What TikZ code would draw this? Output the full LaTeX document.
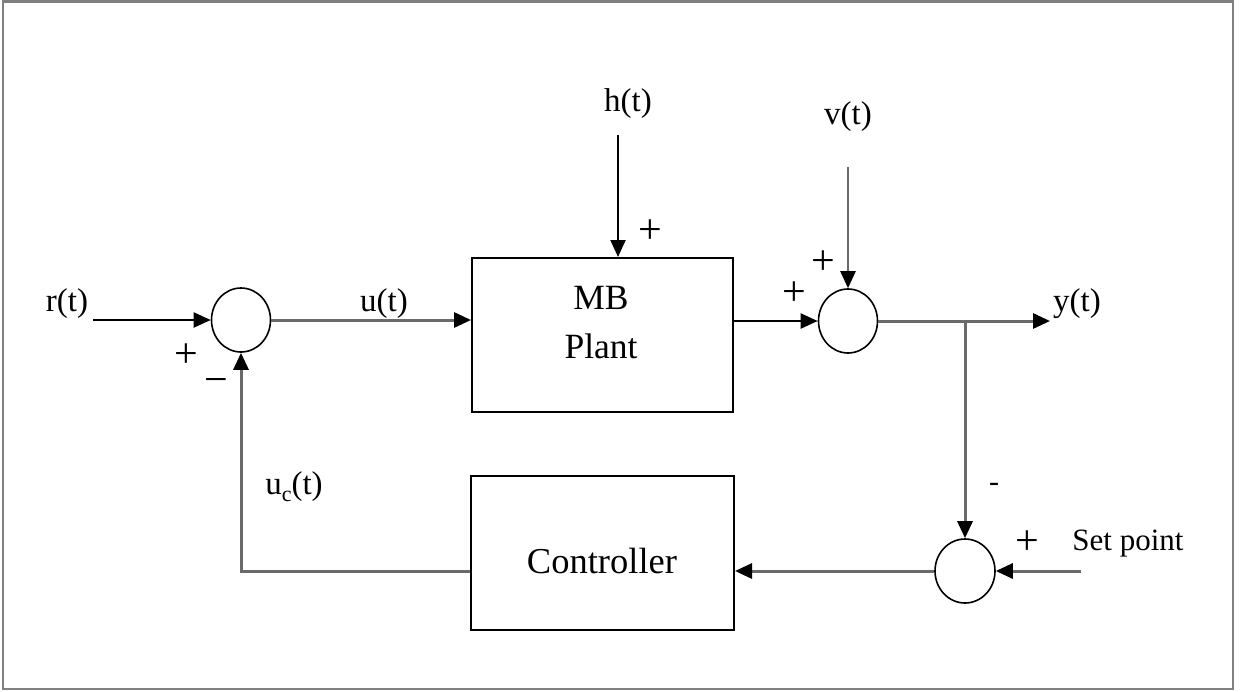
\documentclass[tikz,border=0pt]{standalone}
\usepackage{fontspec}
\setmainfont{Liberation Serif}
\usetikzlibrary{arrows.meta,shapes.geometric}
\definecolor{lgray}{HTML}{6A6A6A}
\definecolor{fgray}{HTML}{808080}
\tikzset{
  lbl/.style={inner sep=0pt, font=\fontsize{33}{36}\selectfont},
  sgn/.style={inner sep=0pt, font=\fontsize{42}{44}\selectfont},
  sumnode/.style={ellipse, draw=black, line width=1.6pt, minimum width=59pt, minimum height=64pt, inner sep=0pt},
  blockbox/.style={rectangle, draw=black, line width=2pt, inner sep=0pt},
  blk/.style={draw=black, line width=2pt, -{Triangle[length=17pt,width=15pt]}},
  gry/.style={draw=lgray, line width=3pt, -{Triangle[length=17pt,width=15pt,color=black]}},
}
\begin{document}
\begin{tikzpicture}[x=1pt,y=-1pt]
\useasboundingbox (0,0) rectangle (1244,691);
\draw[fgray, line width=2.5pt] (3,1.5) rectangle (1233,689);

% blocks
\node[blockbox, minimum width=261pt, minimum height=154pt] (plant) at (602.5,335) {};
\node[blockbox, minimum width=263pt, minimum height=154pt] (ctrl) at (602.5,553) {};
\node[lbl, align=center, font=\fontsize{35.5}{49}\selectfont] (plantlbl) at (601,323) {MB\\Plant};
\node[lbl, font=\fontsize{36.5}{40}\selectfont] (ctrllbl) at (602,561) {Controller};

% summing junctions
\node[sumnode] (s1) at (241,320) {};
\node[sumnode] (s2) at (848,321) {};
\node[sumnode, minimum width=60pt] (s3) at (965,571) {};

% labels
\node[lbl] (rlbl) at (67,304) {r(t)};
\node[lbl] (ulbl) at (384,304) {u(t)};
\node[lbl] (hlbl) at (628,104) {h(t)};
\node[lbl] (vlbl) at (848,117) {v(t)};
\node[lbl] (ylbl) at (1077,304) {y(t)};
\node[lbl, font=\fontsize{31}{34}\selectfont] (splbl) at (1128,544) {Set point};
\node[lbl] (uclbl) at (294,487) {u\raisebox{-0.22em}{\fontsize{22}{22}\selectfont c}(t)};

% signs
\node[sgn] (p1) at (186,356) {+};
\node[sgn] (m1) at (216,386) {−};
\node[sgn] (p2) at (650,232) {+};
\node[sgn] (p3) at (823,263) {+};
\node[sgn] (p4) at (794,294) {+};
\node[lbl, font=\fontsize{30}{32}\selectfont] (m3) at (994,487) {-};
\node[sgn] (p5) at (1027,543) {+};

% coordinates
\coordinate (rin) at (93,320);
\coordinate (hin) at (618,135);
\coordinate (vin) at (848,167);
\coordinate (yout) at (1050,321);
\coordinate (br) at (965,321);
\coordinate (spin) at (1081,571);
\coordinate (fbc) at (241,571);

% connectors
\draw[blk] (rin) -- (s1.west);
\draw[gry] (s1.east) -- (s1.east -| plant.west);
\draw[blk] (hin) -- (hin |- plant.north);
\draw[blk] (s2.west -| plant.east) -- (s2.west);
\draw[gry, line width=2.5pt] (vin) -- (s2.north);
\draw[gry] (s2.east) -- (yout);
\draw[gry] (br) -- (s3.north);
\draw[gry] (spin) -- (s3.east);
\draw[gry] (s3.west) -- (s3.west -| ctrl.east);
\draw[gry] (s3.west -| ctrl.west) -- (fbc) -- (s1.south);
\end{tikzpicture}
\end{document}
